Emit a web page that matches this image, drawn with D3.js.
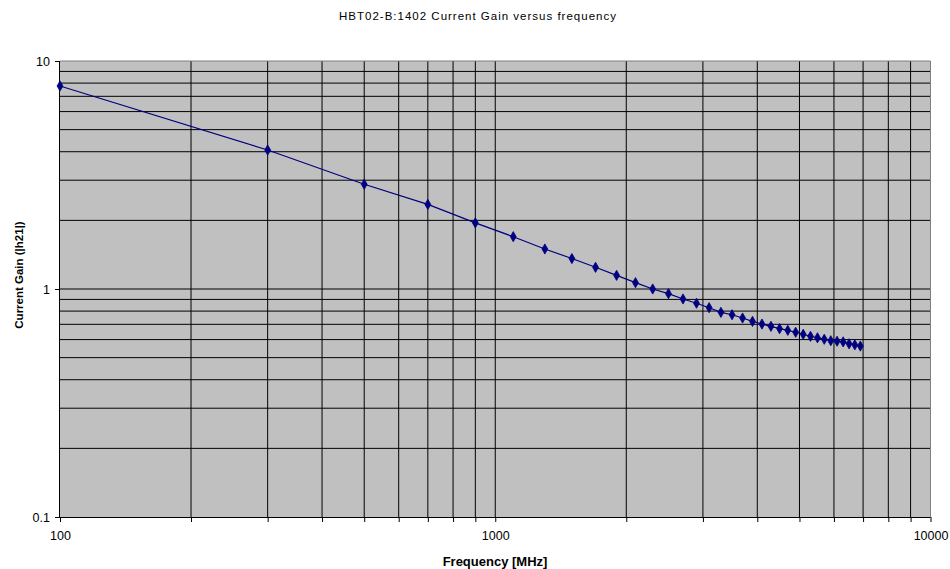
<!DOCTYPE html>
<html>
<head>
<meta charset="utf-8">
<script src="https://cdn.jsdelivr.net/npm/d3@7"></script>
<style>
  html, body { margin: 0; padding: 0; background: #fff; }
  svg { display: block; font-family: "Liberation Sans", Arial, sans-serif; }
</style>
</head>
<body>
<svg id="chart" width="950" height="569"></svg>
<script>
// Measured current gain |h21| of HBT02-B:1402 against frequency
const frequencies = [100, 300, 500, 700, 900, 1100, 1300, 1500, 1700, 1900,
  2100, 2300, 2500, 2700, 2900, 3100, 3300, 3500, 3700, 3900,
  4100, 4300, 4500, 4700, 4900, 5100, 5300, 5500, 5700, 5900,
  6100, 6300, 6500, 6700, 6900];
const gains = [7.77, 4.07, 2.88, 2.35, 1.95, 1.696, 1.498, 1.36, 1.245, 1.148,
  1.066, 1.0, 0.954, 0.904, 0.866, 0.828, 0.79, 0.771, 0.746, 0.721,
  0.702, 0.686, 0.67, 0.659, 0.646, 0.633, 0.62, 0.611, 0.602, 0.593,
  0.59, 0.586, 0.575, 0.569, 0.562];
const xTickLabels = [100, 1000, 10000];
const yTickLabels = [0.1, 1, 10];

const title = "HBT02-B:1402 Current Gain versus frequency";
const xTitle = "Frequency [MHz]";
const yTitle = "Current Gain (|h21|)";

const svg = d3.select("#chart");
const plot = { left: 60, right: 930.5, top: 61, bottom: 517 };

const x = d3.scaleLog().domain([100, 10000]).range([plot.left, plot.right]);
const y = d3.scaleLog().domain([0.1, 10]).range([plot.bottom, plot.top]);

// Plot area background
svg.append("rect")
  .attr("x", plot.left).attr("y", plot.top)
  .attr("width", plot.right - plot.left).attr("height", plot.bottom - plot.top)
  .attr("fill", "#c0c0c0");

// Every decade step (major and minor) gets a gridline
function decadeSteps(lo, hi) {
  const out = [];
  for (let d = lo; d < hi; d *= 10) {
    for (let k = 1; k <= 9; k++) out.push(+(d * k).toPrecision(6));
  }
  out.push(hi);
  return out;
}
const xGrid = decadeSteps(100, 10000).filter(v => v > 100 && v < 10000);
const yGrid = decadeSteps(0.1, 10).filter(v => v > 0.1 && v < 10);

const grid = svg.append("g").attr("stroke", "#000").attr("stroke-width", 1);
grid.selectAll("line.v").data(xGrid).join("line")
  .attr("class", "v")
  .attr("x1", d => x(d)).attr("x2", d => x(d))
  .attr("y1", plot.top).attr("y2", plot.bottom);
grid.selectAll("line.h").data(yGrid).join("line")
  .attr("class", "h")
  .attr("x1", plot.left).attr("x2", plot.right)
  .attr("y1", d => y(d)).attr("y2", d => y(d));

// Plot border (top and right in grey)
svg.append("path")
  .attr("d", `M${plot.left},${plot.top}H${plot.right}V${plot.bottom}`)
  .attr("fill", "none").attr("stroke", "#808080").attr("stroke-width", 1);

// Axes
const xAxis = d3.axisBottom(x)
  .tickValues(xGrid.concat([100, 10000]))
  .tickSize(5)
  .tickFormat(d => xTickLabels.includes(d) ? d : "");
const yAxis = d3.axisLeft(y)
  .tickValues(yTickLabels)
  .tickSize(5)
  .tickFormat(d => String(d));

const gx = svg.append("g")
  .attr("transform", `translate(0,${plot.bottom})`)
  .call(xAxis);
gx.select(".domain").attr("stroke", "#000").attr("d", `M${plot.left},0.5H${plot.right}`);
gx.selectAll(".tick line").attr("stroke", "#000");
gx.selectAll(".tick text")
  .attr("font-family", "Liberation Sans, Arial, sans-serif")
  .attr("font-size", 12.5).attr("fill", "#000")
  .attr("y", 14);

const gy = svg.append("g")
  .attr("transform", `translate(${plot.left},0)`)
  .call(yAxis);
gy.select(".domain").attr("stroke", "#000").attr("d", `M-0.5,${plot.top}V${plot.bottom}`);
gy.selectAll(".tick line").attr("stroke", "#000");
gy.selectAll(".tick text")
  .attr("font-family", "Liberation Sans, Arial, sans-serif")
  .attr("font-size", 12.5).attr("fill", "#000")
  .attr("x", -10);

// Series line and diamond markers
const pts = frequencies.map((f, i) => [f, gains[i]]);
svg.append("path")
  .datum(pts)
  .attr("fill", "none")
  .attr("stroke", "#000080")
  .attr("stroke-width", 1.2)
  .attr("d", d3.line().x(d => x(d[0])).y(d => y(d[1])));

const diamond = d3.symbol().type(d3.symbolDiamond).size(30);
svg.append("g").selectAll("path")
  .data(pts).join("path")
  .attr("transform", d => `translate(${x(d[0])},${y(d[1])})`)
  .attr("d", diamond)
  .attr("fill", "#000080")
  .attr("stroke", "#000080")
  .attr("stroke-width", 0.8);

// Titles
svg.append("text")
  .attr("x", 478).attr("y", 20)
  .attr("text-anchor", "middle")
  .attr("font-size", 11.5)
  .attr("letter-spacing", 1)
  .text(title);

svg.append("text")
  .attr("x", 495).attr("y", 566)
  .attr("text-anchor", "middle")
  .attr("font-size", 13).attr("font-weight", "bold")
  .text(xTitle);

svg.append("text")
  .attr("transform", "translate(23,275) rotate(-90)")
  .attr("text-anchor", "middle")
  .attr("font-size", 11.5).attr("font-weight", "bold")
  .text(yTitle);
</script>
</body>
</html>
